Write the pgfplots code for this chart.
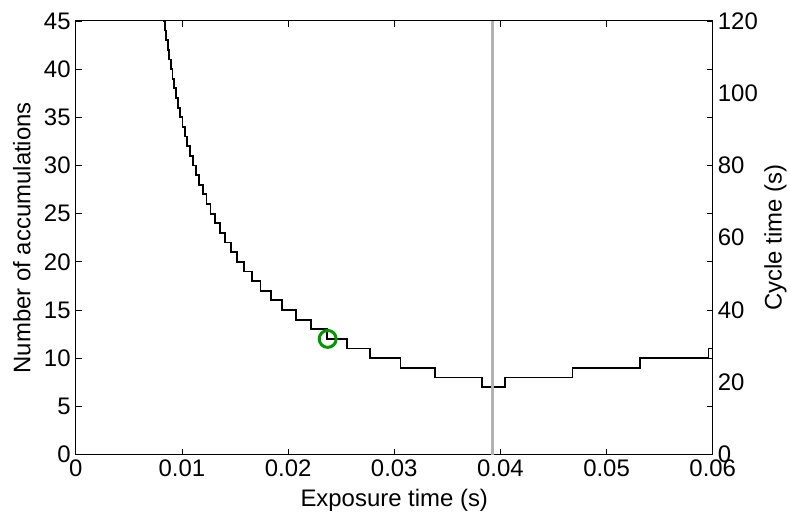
\documentclass[border=0pt]{standalone}
\usepackage{pgfplots}
\pgfplotsset{compat=1.18}
\usepackage{fontspec}
\setmainfont{Liberation Sans}
\definecolor{mygreen}{RGB}{0,153,0}
\definecolor{mygray}{RGB}{178,178,178}
\begin{document}
\begin{tikzpicture}
\pgfplotsset{
  every axis/.append style={
    scale only axis, width=639bp, height=435bp,
    tick align=inside, major tick length=6bp,
    axis line style={line width=1bp},
    every tick/.style={black, line width=0.8bp},
    tick label style={font=\fontsize{24bp}{28bp}\selectfont, inner sep=1bp},
    label style={font=\fontsize{24bp}{28bp}\selectfont},
    scaled x ticks=false, scaled y ticks=false,
  }
}
\begin{axis}[
  name=main,
  xmin=0, xmax=0.06, ymin=0, ymax=45,
  xtick={0,0.01,0.02,0.03,0.04,0.05,0.06},
  xticklabels={0,0.01,0.02,0.03,0.04,0.05,0.06},
  ytick={0,5,10,15,20,25,30,35,40,45},
  yticklabels={0,5,10,15,20,25,30,35,40,45},
  xticklabel style={yshift=-4bp},
  yticklabel style={xshift=-4bp},
  xlabel={Exposure time (s)},
  ylabel={Number of accumulations},
  xlabel style={at={(axis description cs:0.5,-0.1057)}, anchor=center},
  ylabel style={at={(axis description cs:-0.0845,0.5)}, anchor=center, rotate=0},
  clip=true,
]
\addplot[const plot, black, line width=1.8bp] coordinates {
(0.008135,46) (0.008256,45) (0.008382,44) (0.008514,43) (0.008652,42)
(0.008798,41) (0.008950,40) (0.009110,39) (0.009279,38) (0.009457,37)
(0.009644,36) (0.009843,35) (0.010053,34) (0.010276,33) (0.010513,32)
(0.010765,31) (0.011033,30) (0.011321,29) (0.011629,28) (0.011959,27)
(0.012315,26) (0.012700,25) (0.013117,24) (0.013570,23) (0.014064,22)
(0.014605,21) (0.015200,20) (0.015858,19) (0.016589,18) (0.017406,17)
(0.01838,16) (0.01946,15) (0.02072,14) (0.02213,13) (0.02369,12)
(0.02557,11) (0.02770,10) (0.03058,9) (0.03387,8) (0.03824,7)
(0.04044,8) (0.04679,9) (0.05317,10) (0.05960,11) (0.0610,11)
};
\addplot[mygray, line width=3.5bp] coordinates {(0.03924,0) (0.03924,45)};
\addplot[only marks, mark=o, mark size=8.5bp, mygreen, mark options={line width=3bp}] coordinates {(0.02373,12)};
\end{axis}
\begin{axis}[
  xmin=0, xmax=0.06, ymin=0, ymax=120,
  axis x line=none, axis y line*=right,
  ytick={0,20,40,60,80,100,120},
  yticklabels={0,20,40,60,80,100,120},
  major tick length=0pt,
  yticklabel style={xshift=4bp},
  ylabel={Cycle time (s)},
  ylabel style={at={(axis description cs:1.0986,0.5)}, anchor=center, rotate=0},
]
\addplot[draw=none] coordinates {(0,0)};
\end{axis}
\path ([xshift=-76bp,yshift=-60bp]main.south west) rectangle ++(790bp,516bp);
\end{tikzpicture}
\end{document}
